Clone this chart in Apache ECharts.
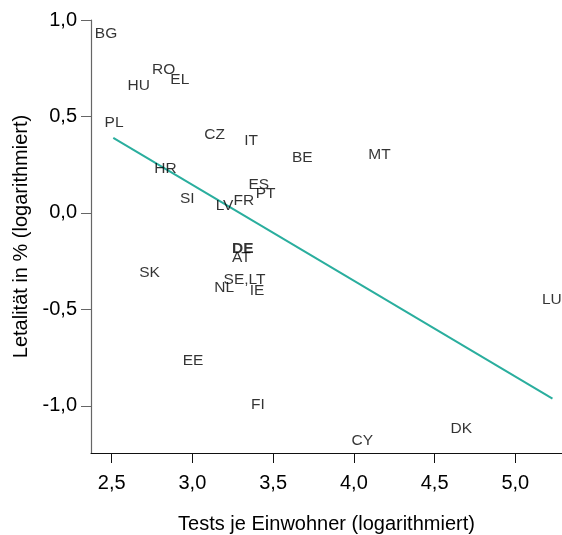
<!DOCTYPE html>
<html>
<head>
<meta charset="utf-8">
<script src="https://cdn.jsdelivr.net/npm/echarts@6/dist/echarts.min.js"></script>
<style>html,body{margin:0;padding:0;background:#fff}#c{width:562px;height:535px}</style>
</head>
<body>
<div id="c"></div>
<script>
var countries = ['BG','RO','EL','HU','PL','CZ','IT','BE','MT','HR','ES','PT','FR','SI','LV','DE','AT','SK','SE,LT','NL','IE','LU','EE','FI','DK','CY'];
var tests = [2.465,2.822,2.922,2.668,2.515,3.138,3.364,3.681,4.159,2.833,3.411,3.453,3.318,2.968,3.199,3.312,3.303,2.735,3.323,3.197,3.400,5.226,3.004,3.405,4.665,4.052];
var lethality = [0.930,0.743,0.689,0.659,0.468,0.404,0.375,0.284,0.303,0.231,0.148,0.101,0.065,0.075,0.039,-0.183,-0.230,-0.308,-0.347,-0.385,-0.403,-0.451,-0.767,-0.992,-1.116,-1.178];
var fitX = [2.51, 5.23];
var fitY = [0.389, -0.962];
var xTicks = [2.5, 3.0, 3.5, 4.0, 4.5, 5.0];
var yTicks = [-1.0, -0.5, 0.0, 0.5, 1.0];

var FONT = '"Liberation Sans", Arial, sans-serif';
var fmt = function (v) { return v.toFixed(1).replace('.', ','); };

var pts = countries.map(function (n, i) {
  var d = { value: [tests[i], lethality[i], n] };
  if (n === 'DE') d.label = { fontWeight: 'bold' };
  return d;
});
var fit = fitX.map(function (x, i) { return [x, fitY[i]]; });

var chart = echarts.init(document.getElementById('c'), null, { renderer: 'canvas' });
chart.setOption({
  animation: false,
  backgroundColor: '#fff',
  textStyle: { fontFamily: FONT },
  grid: { left: 91, top: 20, right: 0, bottom: 82, containLabel: false, outerBoundsMode: 'none' },
  xAxis: {
    type: 'value', min: 2.372, max: 5.289,
    name: 'Tests je Einwohner (logarithmiert)', nameLocation: 'middle', nameGap: 61,
    nameTextStyle: { fontSize: 20, color: '#000', fontFamily: FONT },
    axisLine: { show: true, onZero: false, lineStyle: { color: '#111', width: 1 } },
    axisTick: { show: true, length: 10, lineStyle: { color: '#111' }, customValues: xTicks },
    axisLabel: { fontSize: 20, color: '#000', margin: 20, fontFamily: FONT, customValues: xTicks, formatter: fmt },
    splitLine: { show: false }
  },
  yAxis: {
    type: 'value', min: -1.244, max: 1.0,
    name: 'Letalität in % (logarithmiert)', nameLocation: 'middle', nameGap: 50,
    nameTextStyle: { fontSize: 20, color: '#000', fontFamily: FONT },
    axisLine: { show: true, onZero: false, lineStyle: { color: '#666', width: 1.2 } },
    axisTick: { show: true, length: 10, lineStyle: { color: '#666' }, customValues: yTicks },
    axisLabel: { fontSize: 20, color: '#000', margin: 14, fontFamily: FONT, customValues: yTicks, formatter: fmt },
    splitLine: { show: false }
  },
  series: [
    {
      type: 'line', data: fit, symbol: 'none', silent: true,
      lineStyle: { color: '#2aae9e', width: 2 }, z: 2
    },
    {
      type: 'scatter', data: pts, symbolSize: 1, itemStyle: { color: 'rgba(0,0,0,0)' },
      label: {
        show: true, position: 'inside', color: '#000', fontSize: 15.5, fontFamily: FONT,
        offset: [0, 2],
        formatter: function (p) { return p.value[2]; }
      },
      labelLayout: { hideOverlap: false }, z: 3
    }
  ]
});
</script>
</body>
</html>
